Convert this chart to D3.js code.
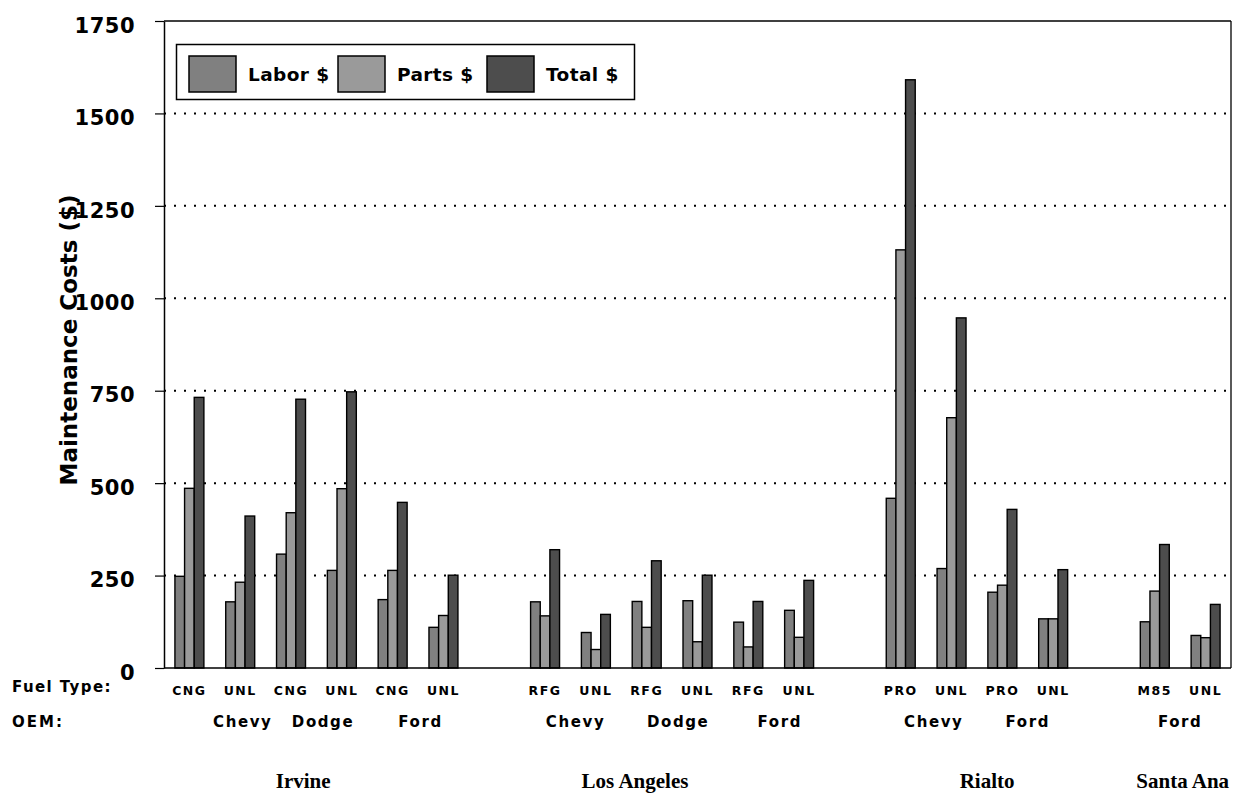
<!DOCTYPE html>
<html>
<head>
<meta charset="utf-8">
<script src="https://cdn.jsdelivr.net/npm/d3@7"></script>
<style>
  html, body { margin: 0; padding: 0; background: #fff; }
  svg { display: block; }
</style>
</head>
<body>
<svg id="chart" width="1245" height="794"></svg>
<script>
// ---------------- DATA ----------------
// 21 category slots (null = empty spacer slot between locations)
const fuelTypes = ["CNG","UNL","CNG","UNL","CNG","UNL", null,
                   "RFG","UNL","RFG","UNL","RFG","UNL", null,
                   "PRO","UNL","PRO","UNL", null,
                   "M85","UNL"];
const laborCost = [248,179,308,264,185,110, null,
                   179,96,180,182,124,156, null,
                   459,269,205,133, null,
                   125,88];
const partsCost = [486,232,420,485,264,142, null,
                   141,50,110,71,57,83, null,
                   1131,677,224,133, null,
                   208,82];
const totalCost = [732,411,727,747,448,251, null,
                   320,145,290,251,180,237, null,
                   1591,947,429,266, null,
                   334,172];
const seriesNames = ["Labor $","Parts $","Total $"];
const seriesColors = ["#808080","#9a9a9a","#4d4d4d"];
const yTicks = [0,250,500,750,1000,1250,1500,1750];
// OEM labels anchored at a (fractional) slot index
const oemLabels = [
  {name:"Chevy", at:1.05}, {name:"Dodge", at:2.63}, {name:"Ford", at:4.55},
  {name:"Chevy", at:7.6},  {name:"Dodge", at:9.62}, {name:"Ford", at:11.62},
  {name:"Chevy", at:14.65},{name:"Ford", at:16.5},
  {name:"Ford", at:19.5}
];
const locationLabels = [
  {name:"Irvine", at:2.24}, {name:"Los Angeles", at:8.77},
  {name:"Rialto", at:15.7}, {name:"Santa Ana", at:19.55}
];
const yTitle = "Maintenance Costs ($)";

// ---------------- LAYOUT ----------------
const svg = d3.select("#chart");
const L = 164, R = 1231, T = 21, B = 668;
const slots = d3.range(fuelTypes.length);
const x0 = d3.scaleBand().domain(slots).range([L, R]).paddingInner(0.43).paddingOuter(0.215);
const x1 = d3.scaleBand().domain(d3.range(3)).range([0, x0.bandwidth()]);
const y = d3.scaleLinear().domain([0, 1750]).range([B, T]);
const slotCenter = at => x0(0) + x0.bandwidth() / 2 + at * x0.step();

const boldSans = "'DejaVu Sans', sans-serif";

// gridlines (dotted)
svg.append("g").selectAll("line")
  .data(yTicks.filter(v => v > 0 && v < 1750))
  .join("line")
  .attr("x1", L).attr("x2", R)
  .attr("y1", d => y(d)).attr("y2", d => y(d))
  .attr("stroke", "#000").attr("stroke-width", 2)
  .attr("stroke-dasharray", "2 8");

// top and right border
svg.append("line").attr("x1", L).attr("x2", R).attr("y1", y(1750)).attr("y2", y(1750))
  .attr("stroke", "#000").attr("stroke-width", 1.3);
svg.append("line").attr("x1", R).attr("x2", R).attr("y1", y(1750)).attr("y2", y(0))
  .attr("stroke", "#000").attr("stroke-width", 1.3);

// bars
const seriesData = [laborCost, partsCost, totalCost];
const barG = svg.append("g");
slots.forEach(i => {
  if (fuelTypes[i] === null) return;
  seriesData.forEach((arr, s) => {
    barG.append("rect")
      .attr("x", x0(i) + x1(s))
      .attr("y", y(arr[i]))
      .attr("width", x1.bandwidth())
      .attr("height", y(0) - y(arr[i]))
      .attr("fill", seriesColors[s])
      .attr("stroke", "#000")
      .attr("stroke-width", 1.4);
  });
});

// x axis baseline
svg.append("line").attr("x1", L).attr("x2", R).attr("y1", y(0)).attr("y2", y(0))
  .attr("stroke", "#000").attr("stroke-width", 1.5);

// y axis
const yAxis = svg.append("g").attr("transform", `translate(${L},0)`)
  .call(d3.axisLeft(y).tickValues(yTicks).tickFormat(d3.format("d"))
    .tickSize(9).tickSizeOuter(0).tickPadding(20));
yAxis.select(".domain").attr("stroke", "#000").attr("stroke-width", 1.5);
yAxis.selectAll(".tick line").attr("stroke", "#000").attr("stroke-width", 1.2);
yAxis.selectAll(".tick text")
  .attr("font-family", boldSans).attr("font-weight", "bold")
  .attr("font-size", 21).attr("fill", "#000").attr("dy", "0.68em")
  .attr("y", -3).attr("letter-spacing", 0.5);

// y title
svg.append("text")
  .attr("transform", "translate(77,340) rotate(-90)")
  .attr("text-anchor", "middle")
  .attr("font-family", boldSans).attr("font-weight", "bold")
  .attr("font-size", 23).text(yTitle);

// fuel type labels
svg.append("g").selectAll("text")
  .data(slots.filter(i => fuelTypes[i] !== null))
  .join("text")
  .attr("x", i => x0(i) + x0.bandwidth() / 2)
  .attr("y", 695)
  .attr("text-anchor", "middle")
  .attr("font-family", boldSans).attr("font-weight", "bold")
  .attr("font-size", 12.5).attr("letter-spacing", 1.5)
  .text(i => fuelTypes[i]);

// row headers
svg.append("text").attr("x", 12).attr("y", 692)
  .attr("font-family", boldSans).attr("font-weight", "bold")
  .attr("font-size", 15).attr("letter-spacing", 1.4).text("Fuel Type:");
svg.append("text").attr("x", 12).attr("y", 727)
  .attr("font-family", boldSans).attr("font-weight", "bold")
  .attr("font-size", 15).attr("letter-spacing", 2).text("OEM:");

// OEM labels
svg.append("g").selectAll("text")
  .data(oemLabels).join("text")
  .attr("x", d => slotCenter(d.at)).attr("y", 727)
  .attr("text-anchor", "middle")
  .attr("font-family", boldSans).attr("font-weight", "bold")
  .attr("font-size", 15).attr("letter-spacing", 1.6)
  .text(d => d.name);

// location labels
svg.append("g").selectAll("text")
  .data(locationLabels).join("text")
  .attr("x", d => slotCenter(d.at)).attr("y", 788)
  .attr("text-anchor", "middle")
  .attr("font-family", "'Liberation Serif', 'Times New Roman', serif")
  .attr("font-weight", "bold").attr("font-size", 21)
  .text(d => d.name);

// legend
const lg = svg.append("g");
lg.append("rect").attr("x", 176.5).attr("y", 44.5).attr("width", 458).attr("height", 55)
  .attr("fill", "#fff").attr("stroke", "#000").attr("stroke-width", 1.5);
seriesNames.forEach((name, s) => {
  const gx = 189 + s * 149;
  lg.append("rect").attr("x", gx).attr("y", 56).attr("width", 47).attr("height", 36)
    .attr("fill", seriesColors[s]).attr("stroke", "#000").attr("stroke-width", 1.5);
  lg.append("text").attr("x", gx + 59).attr("y", 81)
    .attr("font-family", boldSans).attr("font-weight", "bold")
    .attr("font-size", 18.5).attr("letter-spacing", 0.4).text(name);
});
</script>
</body>
</html>
